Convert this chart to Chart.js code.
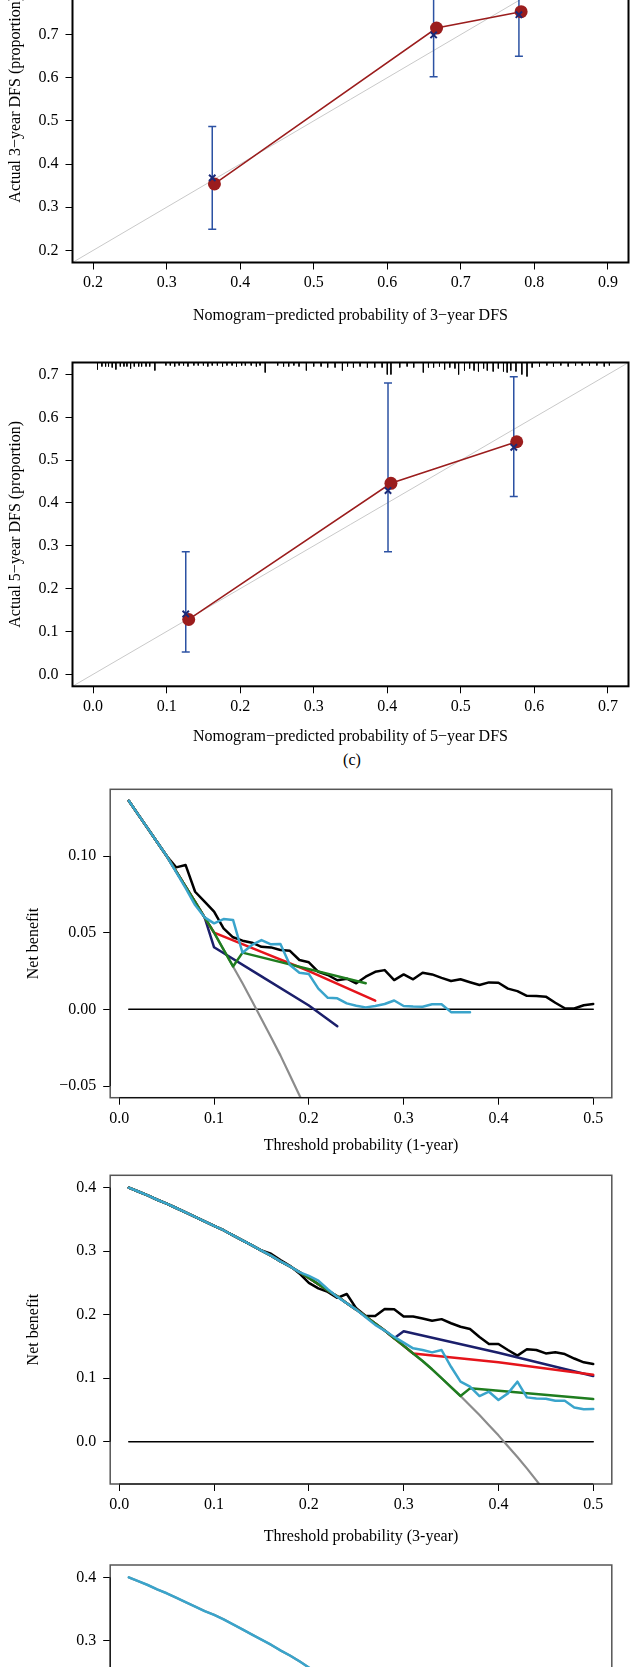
<!DOCTYPE html>
<html>
<head>
<meta charset="utf-8">
<script src="https://cdn.jsdelivr.net/npm/chart.js@4.4.0/dist/chart.umd.min.js"></script>
<style>
  html, body { margin: 0; padding: 0; background: #fff; overflow: hidden; }
  #page { position: relative; width: 635px; height: 1667px; overflow: hidden; background: #fff; }
  #page canvas { position: absolute; left: 0; }
  .lab { position: absolute; font: 16px 'Liberation Serif', serif; line-height: 19px; color: #000; text-align: center; }
</style>
</head>
<body>
<div id="page">
  <canvas id="cal3"></canvas>
  <canvas id="cal5"></canvas>
  <div class="lab" id="lab-c" style="left:302px; top:750px; width:100px;">(c)</div>
  <canvas id="dca1"></canvas>
  <canvas id="dca3"></canvas>
  <canvas id="dca5"></canvas>
</div>
<script>
// ---- calibration data (3-year DFS) ----
const cal3Pred = [0.365, 0.667, 0.782];
const cal3Obs = [0.354, 0.715, 0.753];
const cal3BarX = [0.362, 0.663, 0.779];
const cal3Mid = [0.368, 0.699, 0.746];
const cal3Lo = [0.249, 0.602, 0.650];
const cal3Hi = [0.487, 0.800, 0.840];
const cal3Ticks = [0.2, 0.3, 0.4, 0.5, 0.6, 0.7, 0.8, 0.9];

// ---- calibration data (5-year DFS) ----
const cal5Pred = [0.130, 0.405, 0.576];
const cal5Obs = [0.128, 0.446, 0.543];
const cal5BarX = [0.126, 0.401, 0.572];
const cal5Mid = [0.141, 0.429, 0.530];
const cal5Lo = [0.052, 0.286, 0.415];
const cal5Hi = [0.286, 0.680, 0.695];
const cal5Ticks = [0.0, 0.1, 0.2, 0.3, 0.4, 0.5, 0.6, 0.7];
// distribution of predicted risk shown along the top (position, relative frequency)
const rug5X = [0.006, 0.012, 0.017, 0.021, 0.026, 0.031, 0.037, 0.042, 0.046, 0.051, 0.056, 0.062, 0.066, 0.072, 0.077, 0.084,
  0.099, 0.105, 0.111, 0.117, 0.123, 0.129, 0.137, 0.143, 0.150, 0.156, 0.162, 0.169, 0.176, 0.182, 0.189, 0.195, 0.202,
  0.207, 0.215, 0.222, 0.227, 0.234, 0.251, 0.259, 0.266, 0.273, 0.280, 0.290, 0.300, 0.310, 0.319, 0.329, 0.339, 0.346,
  0.354, 0.363, 0.373, 0.383, 0.393, 0.400, 0.405, 0.417, 0.427, 0.436, 0.449, 0.456, 0.463, 0.471, 0.478, 0.485, 0.492,
  0.497, 0.505, 0.512, 0.518, 0.524, 0.531, 0.536, 0.544, 0.551, 0.558, 0.563, 0.568, 0.575, 0.583, 0.590, 0.597, 0.607,
  0.617, 0.626, 0.636, 0.646, 0.656, 0.665, 0.675, 0.685, 0.695, 0.702];
const rug5N = [7, 4, 4, 4, 5, 7, 4, 4, 4, 6, 4, 4, 4, 4, 4, 8,
  3, 3, 4, 3, 3, 4, 3, 3, 3, 4, 3, 3, 4, 3, 3, 4, 3,
  3, 3, 4, 3, 10, 3, 4, 4, 3, 4, 8, 4, 4, 5, 5, 8, 4,
  5, 4, 5, 5, 5, 12, 12, 5, 4, 5, 10, 5, 5, 4, 7, 5, 6,
  12, 8, 6, 8, 9, 6, 8, 9, 6, 9, 10, 8, 9, 12, 14, 5, 4,
  3, 4, 3, 4, 3, 3, 3, 3, 4, 3];

// ---- decision curves ----
const thr = [0.01, 0.02, 0.03, 0.04, 0.05, 0.06, 0.07, 0.08, 0.09, 0.10,
  0.11, 0.12, 0.13, 0.14, 0.15, 0.16, 0.17, 0.18, 0.19, 0.20,
  0.21, 0.22, 0.23, 0.24, 0.25, 0.26, 0.27, 0.28, 0.29, 0.30,
  0.31, 0.32, 0.33, 0.34, 0.35, 0.36, 0.37, 0.38, 0.39, 0.40,
  0.41, 0.42, 0.43, 0.44, 0.45, 0.46, 0.47, 0.48, 0.49, 0.50];
const noneX = [0.01, 0.50];
const noneY = [0, 0];
const dcaXTicks = [0.0, 0.1, 0.2, 0.3, 0.4, 0.5];

// 1-year
const all1 = [0.136, 0.127, 0.118, 0.109, 0.100, 0.090, 0.080, 0.070, 0.060, 0.050,
  0.039, 0.028, 0.017, 0.0055, -0.0063, -0.018, -0.030, -0.043, -0.056, -0.069];
const black1 = [0.136, 0.127, 0.118, 0.109, 0.100, 0.0926, 0.0941, 0.0767, 0.0702, 0.0637,
  0.0528, 0.047, 0.0448, 0.0435, 0.0408, 0.0404, 0.0387, 0.0382, 0.0322, 0.0307,
  0.0245, 0.0224, 0.019, 0.020, 0.017, 0.0213, 0.0245, 0.0256, 0.0191, 0.0228,
  0.0196, 0.0239, 0.0228, 0.0205, 0.0185, 0.0196, 0.0177, 0.0159, 0.0176, 0.0174,
  0.0135, 0.0119, 0.0088, 0.0087, 0.0083, 0.0043, 0.0007, 0.0006, 0.0027, 0.0035];
const navy1 = [0.136, 0.127, 0.118, 0.109, 0.100, 0.090, 0.080, 0.070, 0.060, 0.0405,
  null, null, null, null, 0.0215, null, null, null, null, 0.0025,
  null, null, -0.011];
const red1 = [0.136, 0.127, 0.118, 0.109, 0.100, 0.090, 0.080, 0.070, 0.060, 0.050,
  null, null, null, null, 0.0375, null, null, null, null, 0.025,
  null, null, null, null, null, null, 0.0057];
const green1 = [0.136, 0.127, 0.118, 0.109, 0.100, 0.090, 0.080, 0.070, 0.060, 0.050,
  0.039, 0.028, 0.037, null, null, null, null, null, null, null,
  null, null, null, null, null, 0.017];
const cyan1 = [0.136, 0.127, 0.118, 0.109, 0.100, 0.0895, 0.079, 0.068, 0.060, 0.0561,
  0.0589, 0.0583, 0.0369, 0.042, 0.0452, 0.0424, 0.0426, 0.0289, 0.0239, 0.023,
  0.0135, 0.0075, 0.0072, 0.0039, 0.0024, 0.0013, 0.0022, 0.0035, 0.0058, 0.0022,
  0.0018, 0.0017, 0.0033, 0.0033, -0.0018, -0.0019, -0.0019];
const dca1YTicks = [-0.05, 0.0, 0.05, 0.10];

// 3-year
const all3 = [0.400, 0.394, 0.388, 0.381, 0.375, 0.368, 0.361, 0.354, 0.347, 0.340,
  0.333, 0.325, 0.317, 0.309, 0.301, 0.293, 0.284, 0.276, 0.267, 0.258,
  0.248, 0.238, 0.229, 0.218, 0.208, 0.197, 0.186, 0.175, 0.163, 0.151,
  0.139, 0.127, 0.114, 0.100, 0.086, 0.072, 0.057, 0.042, 0.026, 0.010,
  -0.007, -0.024, -0.042, -0.061, -0.080];
const black3 = [0.400, 0.394, 0.388, 0.381, 0.375, 0.368, 0.361, 0.354, 0.347, 0.340,
  0.333, 0.325, 0.317, 0.309, 0.301, 0.296, 0.286, 0.277, 0.265, 0.250,
  0.2415, 0.236, 0.2265, 0.2326, 0.210, 0.198, 0.198, 0.209, 0.2085, 0.197,
  0.197, 0.194, 0.1906, 0.193, 0.1865, 0.181, 0.1775, 0.165, 0.1539, 0.1539,
  0.1444, 0.1355, 0.1455, 0.1444, 0.139, 0.1408, 0.138, 0.131, 0.125, 0.1224];
const navy3 = [0.400, 0.394, 0.388, 0.381, 0.375, 0.368, 0.361, 0.354, 0.347, 0.340,
  0.333, 0.325, 0.317, 0.309, 0.301, 0.293, 0.284, 0.276, 0.267, 0.258,
  0.248, 0.238, 0.229, 0.218, 0.208, 0.197, 0.186, 0.175, 0.163, 0.174,
  null, null, null, null, null, null, null, null, null, 0.140,
  null, null, null, null, null, null, null, null, null, 0.1034];
const red3 = [0.400, 0.394, 0.388, 0.381, 0.375, 0.368, 0.361, 0.354, 0.347, 0.340,
  0.333, 0.325, 0.317, 0.309, 0.301, 0.293, 0.284, 0.276, 0.267, 0.258,
  0.248, 0.238, 0.229, 0.218, 0.208, 0.197, 0.186, 0.175, 0.163, 0.151,
  0.139, null, null, null, null, null, null, null, null, 0.125,
  null, null, null, null, null, null, null, null, null, 0.1055];
const green3 = [0.400, 0.394, 0.388, 0.381, 0.375, 0.368, 0.361, 0.354, 0.347, 0.340,
  0.333, 0.325, 0.317, 0.309, 0.301, 0.293, 0.284, 0.276, 0.267, 0.258,
  0.248, 0.238, 0.229, 0.218, 0.208, 0.197, 0.186, 0.175, 0.163, 0.151,
  0.139, 0.127, 0.114, 0.100, 0.086, 0.072, 0.084, null, null, null,
  null, null, null, null, null, null, null, null, null, 0.0672];
const cyan3 = [0.400, 0.394, 0.388, 0.381, 0.375, 0.368, 0.361, 0.354, 0.347, 0.340,
  0.333, 0.325, 0.317, 0.309, 0.301, 0.293, 0.284, 0.276, 0.267, 0.261,
  0.2535, 0.240, 0.228, 0.218, 0.208, 0.196, 0.184, 0.175, 0.165, 0.156,
  0.147, 0.1444, 0.1407, 0.1444, 0.118, 0.0945, 0.0866, 0.0719, 0.0787, 0.0656,
  0.0761, 0.0945, 0.0698, 0.0682, 0.0677, 0.0646, 0.0646, 0.054, 0.051, 0.0514];
const dca3YTicks = [0.0, 0.1, 0.2, 0.3, 0.4];

// 5-year (only the top of this panel is in the picture)
const all5 = [0.400, 0.394, 0.388, 0.381, 0.375, 0.368, 0.361, 0.354, 0.347, 0.341,
  0.334, 0.326, 0.318, 0.310, 0.302, 0.294, 0.285, 0.277, 0.268, 0.258,
  0.248, 0.238, 0.229];
const cyan5 = [0.400, 0.394, 0.388, 0.381, 0.375, 0.368, 0.361, 0.354, 0.347, 0.341,
  0.334, 0.326, 0.318, 0.310, 0.302, 0.294, 0.285, 0.277, 0.268, 0.258,
  0.248, 0.238, 0.229];

// ---- colours ----
const COL = {
  black: '#000000', navy: '#1b1f6b', red: '#e5141b', green: '#1f7d1f', cyan: '#3aa4cb', gray: '#8c8c8c',
  calRed: '#9b1d1d', calBlue: '#2c52a3', calNavy: '#1b2a78', diag: '#c9c9c9'
};

Chart.defaults.font.family = "'Liberation Serif', 'Times New Roman', serif";
Chart.defaults.font.size = 16;
Chart.defaults.color = '#000';

const LH = 19.2; // line height of 16px text

// draw the box round the plot and the R-style axis lines
const framePlugin = {
  id: 'frame',
  afterDatasetsDraw(chart, args, opts) {
    const { ctx, chartArea: a } = chart;
    ctx.save();
    ctx.strokeStyle = opts.color;
    ctx.lineWidth = opts.width;
    ctx.strokeRect(a.left, a.top, a.right - a.left, a.bottom - a.top);
    if (opts.axisLines) {
      const xs = chart.scales.x, ys = chart.scales.y;
      const xt = xs.ticks, yt = ys.ticks;
      ctx.strokeStyle = '#000';
      ctx.lineWidth = 1;
      ctx.beginPath();
      ctx.moveTo(xs.getPixelForValue(xt[0].value), a.bottom);
      ctx.lineTo(xs.getPixelForValue(xt[xt.length - 1].value), a.bottom);
      ctx.moveTo(a.left, ys.getPixelForValue(yt[0].value));
      ctx.lineTo(a.left, ys.getPixelForValue(yt[yt.length - 1].value));
      ctx.stroke();
    }
    ctx.restore();
  }
};

function fmt(v, dec) {
  const s = Math.abs(v).toFixed(dec);
  return v < -1e-9 ? '\u2212' + s : s;
}

function axis(f, ax, isX) {
  const conf = {
    type: 'linear',
    position: isX ? 'bottom' : 'left',
    min: ax.min, max: ax.max,
    afterBuildTicks: s => { s.ticks = ax.ticks.map(v => ({ value: v })); },
    ticks: { callback: v => fmt(v, ax.dec), padding: isX ? 4 : 7, autoSkip: false, maxRotation: 0, color: '#000' },
    grid: { drawOnChartArea: false, drawTicks: true, tickLength: 7, color: '#000', lineWidth: 1 },
    border: { display: false },
    title: { display: true, text: ax.title, color: '#000' }
  };
  if (isX) {
    const h = f.top + f.height - f.boxBottom;
    conf.afterFit = s => { s.height = h; s.paddingLeft = 0; s.paddingRight = 0; s.paddingTop = 0; s.paddingBottom = 0; };
    conf.title.padding = { top: 0, bottom: f.top + f.height - LH / 2 - f.titleY };
  } else {
    conf.afterFit = s => { s.width = f.boxLeft; s.paddingLeft = 0; s.paddingRight = 0; s.paddingTop = 0; s.paddingBottom = 0; };
    conf.title.padding = { top: f.yTitleX - LH / 2, bottom: 0 };
  }
  return conf;
}

function makeChart(id, f, xAx, yAx, layers, frame) {
  const c = document.getElementById(id);
  c.width = 635;
  c.height = f.height;
  c.style.top = f.top + 'px';
  c.style.width = '635px';
  c.style.height = f.height + 'px';
  return new Chart(c, {
    type: 'scatter',
    data: { datasets: layers.slice().reverse() }, // first listed = bottom layer
    options: {
      responsive: false, animation: false, devicePixelRatio: 1, events: [],
      layout: { padding: { left: 0, top: f.boxTop - f.top, right: 635 - f.boxRight, bottom: 0 } },
      plugins: { legend: { display: false }, tooltip: { enabled: false }, frame },
      scales: { x: axis(f, xAx, true), y: axis(f, yAx, false) }
    },
    plugins: [framePlugin]
  });
}

function curve(xs, ys, color, width) {
  const data = [];
  xs.forEach((x, i) => { if (ys[i] !== null && ys[i] !== undefined) data.push({ x, y: ys[i] }); });
  return { data, showLine: true, borderColor: color, borderWidth: width, pointRadius: 0,
    tension: 0, borderJoinStyle: 'round', borderCapStyle: 'round' };
}

function segments(list, color, width) {
  const data = [];
  list.forEach(([x0, y0, x1, y1]) => { data.push({ x: x0, y: y0 }, { x: x1, y: y1 }, { x: x1, y: null }); });
  return { data, showLine: true, spanGaps: false, borderColor: color, borderWidth: width, pointRadius: 0, tension: 0 };
}

function calLayers(pred, obs, barX, mid, lo, hi, yMax, rugX, rugN, rugUnit) {
  const layers = [segments([[-1, -1, 2, 2]], COL.diag, 1)];
  if (rugX) layers.push(segments(rugX.map((x, i) => [x, yMax, x, yMax - rugN[i] * rugUnit]), '#000', 1));
  layers.push(segments(barX.map((x, i) => [x, lo[i], x, hi[i]]), COL.calBlue, 1.5));
  layers.push({ data: barX.flatMap((x, i) => [{ x, y: lo[i] }, { x, y: hi[i] }]), showLine: false,
    pointStyle: 'line', pointRadius: 4, borderColor: COL.calBlue, borderWidth: 1.5 });
  layers.push({ data: pred.map((x, i) => ({ x, y: obs[i] })), showLine: true, tension: 0,
    borderColor: COL.calRed, borderWidth: 1.5, pointRadius: 6.5, pointBackgroundColor: COL.calRed, pointBorderWidth: 0 });
  layers.push({ data: barX.map((x, i) => ({ x, y: mid[i] })), showLine: false,
    pointStyle: 'crossRot', pointRadius: 4.5, borderColor: COL.calNavy, borderWidth: 2 });
  return layers;
}

function dcaLayers(sets) {
  return sets.map(([ys, color, width, xs]) => curve(xs || thr, ys, color, width));
}

// ---- panel: calibration 3-year ----
makeChart('cal3',
  { top: -80, height: 410, boxLeft: 72.5, boxRight: 633.5, boxTop: -63.9, boxBottom: 262.5, titleY: 315.5, yTitleX: 16 },
  { min: 0.172, max: 0.928, ticks: cal3Ticks, dec: 1, title: 'Nomogram\u2212predicted probability of 3\u2212year DFS' },
  { min: 0.172, max: 0.928, ticks: cal3Ticks, dec: 1, title: 'Actual 3\u2212year DFS (proportion)' },
  calLayers(cal3Pred, cal3Obs, cal3BarX, cal3Mid, cal3Lo, cal3Hi),
  { color: '#000', width: 2 });

// ---- panel: calibration 5-year ----
makeChart('cal5',
  { top: 340, height: 410, boxLeft: 72.5, boxRight: 633.5, boxTop: 362.5, boxBottom: 686.3, titleY: 736.7, yTitleX: 16 },
  { min: -0.028, max: 0.728, ticks: cal5Ticks, dec: 1, title: 'Nomogram\u2212predicted probability of 5\u2212year DFS' },
  { min: -0.028, max: 0.728, ticks: cal5Ticks, dec: 1, title: 'Actual 5\u2212year DFS (proportion)' },
  calLayers(cal5Pred, cal5Obs, cal5BarX, cal5Mid, cal5Lo, cal5Hi, 0.728, rug5X, rug5N, 0.756 / 323.8),
  { color: '#000', width: 2 });

// ---- panel: DCA 1-year ----
makeChart('dca1',
  { top: 770, height: 395, boxLeft: 110.2, boxRight: 611.8, boxTop: 789.3, boxBottom: 1097.7, titleY: 1146, yTitleX: 34 },
  { min: -0.0096, max: 0.5196, ticks: dcaXTicks, dec: 1, title: 'Threshold probability (1-year)' },
  { min: -0.0576, max: 0.1435, ticks: dca1YTicks, dec: 2, title: 'Net benefit' },
  dcaLayers([
    [noneY, COL.black, 1.5, noneX],
    [all1, COL.gray, 2.2],
    [black1, COL.black, 2.5],
    [navy1, COL.navy, 2.5],
    [red1, COL.red, 2.5],
    [green1, COL.green, 2.5],
    [cyan1, COL.cyan, 2.5]
  ]),
  { color: '#555', width: 1.5, axisLines: true });

// ---- panel: DCA 3-year ----
makeChart('dca3',
  { top: 1165, height: 390, boxLeft: 110.2, boxRight: 611.8, boxTop: 1175.3, boxBottom: 1484, titleY: 1536.7, yTitleX: 34 },
  { min: -0.0096, max: 0.5196, ticks: dcaXTicks, dec: 1, title: 'Threshold probability (3-year)' },
  { min: -0.0666, max: 0.4195, ticks: dca3YTicks, dec: 1, title: 'Net benefit' },
  dcaLayers([
    [noneY, COL.black, 1.5, noneX],
    [all3, COL.gray, 2.2],
    [black3, COL.black, 2.5],
    [navy3, COL.navy, 2.5],
    [red3, COL.red, 2.5],
    [green3, COL.green, 2.5],
    [cyan3, COL.cyan, 2.5]
  ]),
  { color: '#555', width: 1.5, axisLines: true });

// ---- panel: DCA 5-year (cut off by the page edge) ----
makeChart('dca5',
  { top: 1555, height: 400, boxLeft: 110.2, boxRight: 611.8, boxTop: 1565, boxBottom: 1873.7, titleY: 1926.4, yTitleX: 34 },
  { min: -0.0096, max: 0.5196, ticks: dcaXTicks, dec: 1, title: 'Threshold probability (5-year)' },
  { min: -0.0666, max: 0.4195, ticks: dca3YTicks, dec: 1, title: 'Net benefit' },
  dcaLayers([
    [noneY, COL.black, 1.5, noneX],
    [all5, COL.gray, 2.2],
    [cyan5, COL.cyan, 2.5]
  ]),
  { color: '#555', width: 1.5, axisLines: true });
</script>
</body>
</html>
